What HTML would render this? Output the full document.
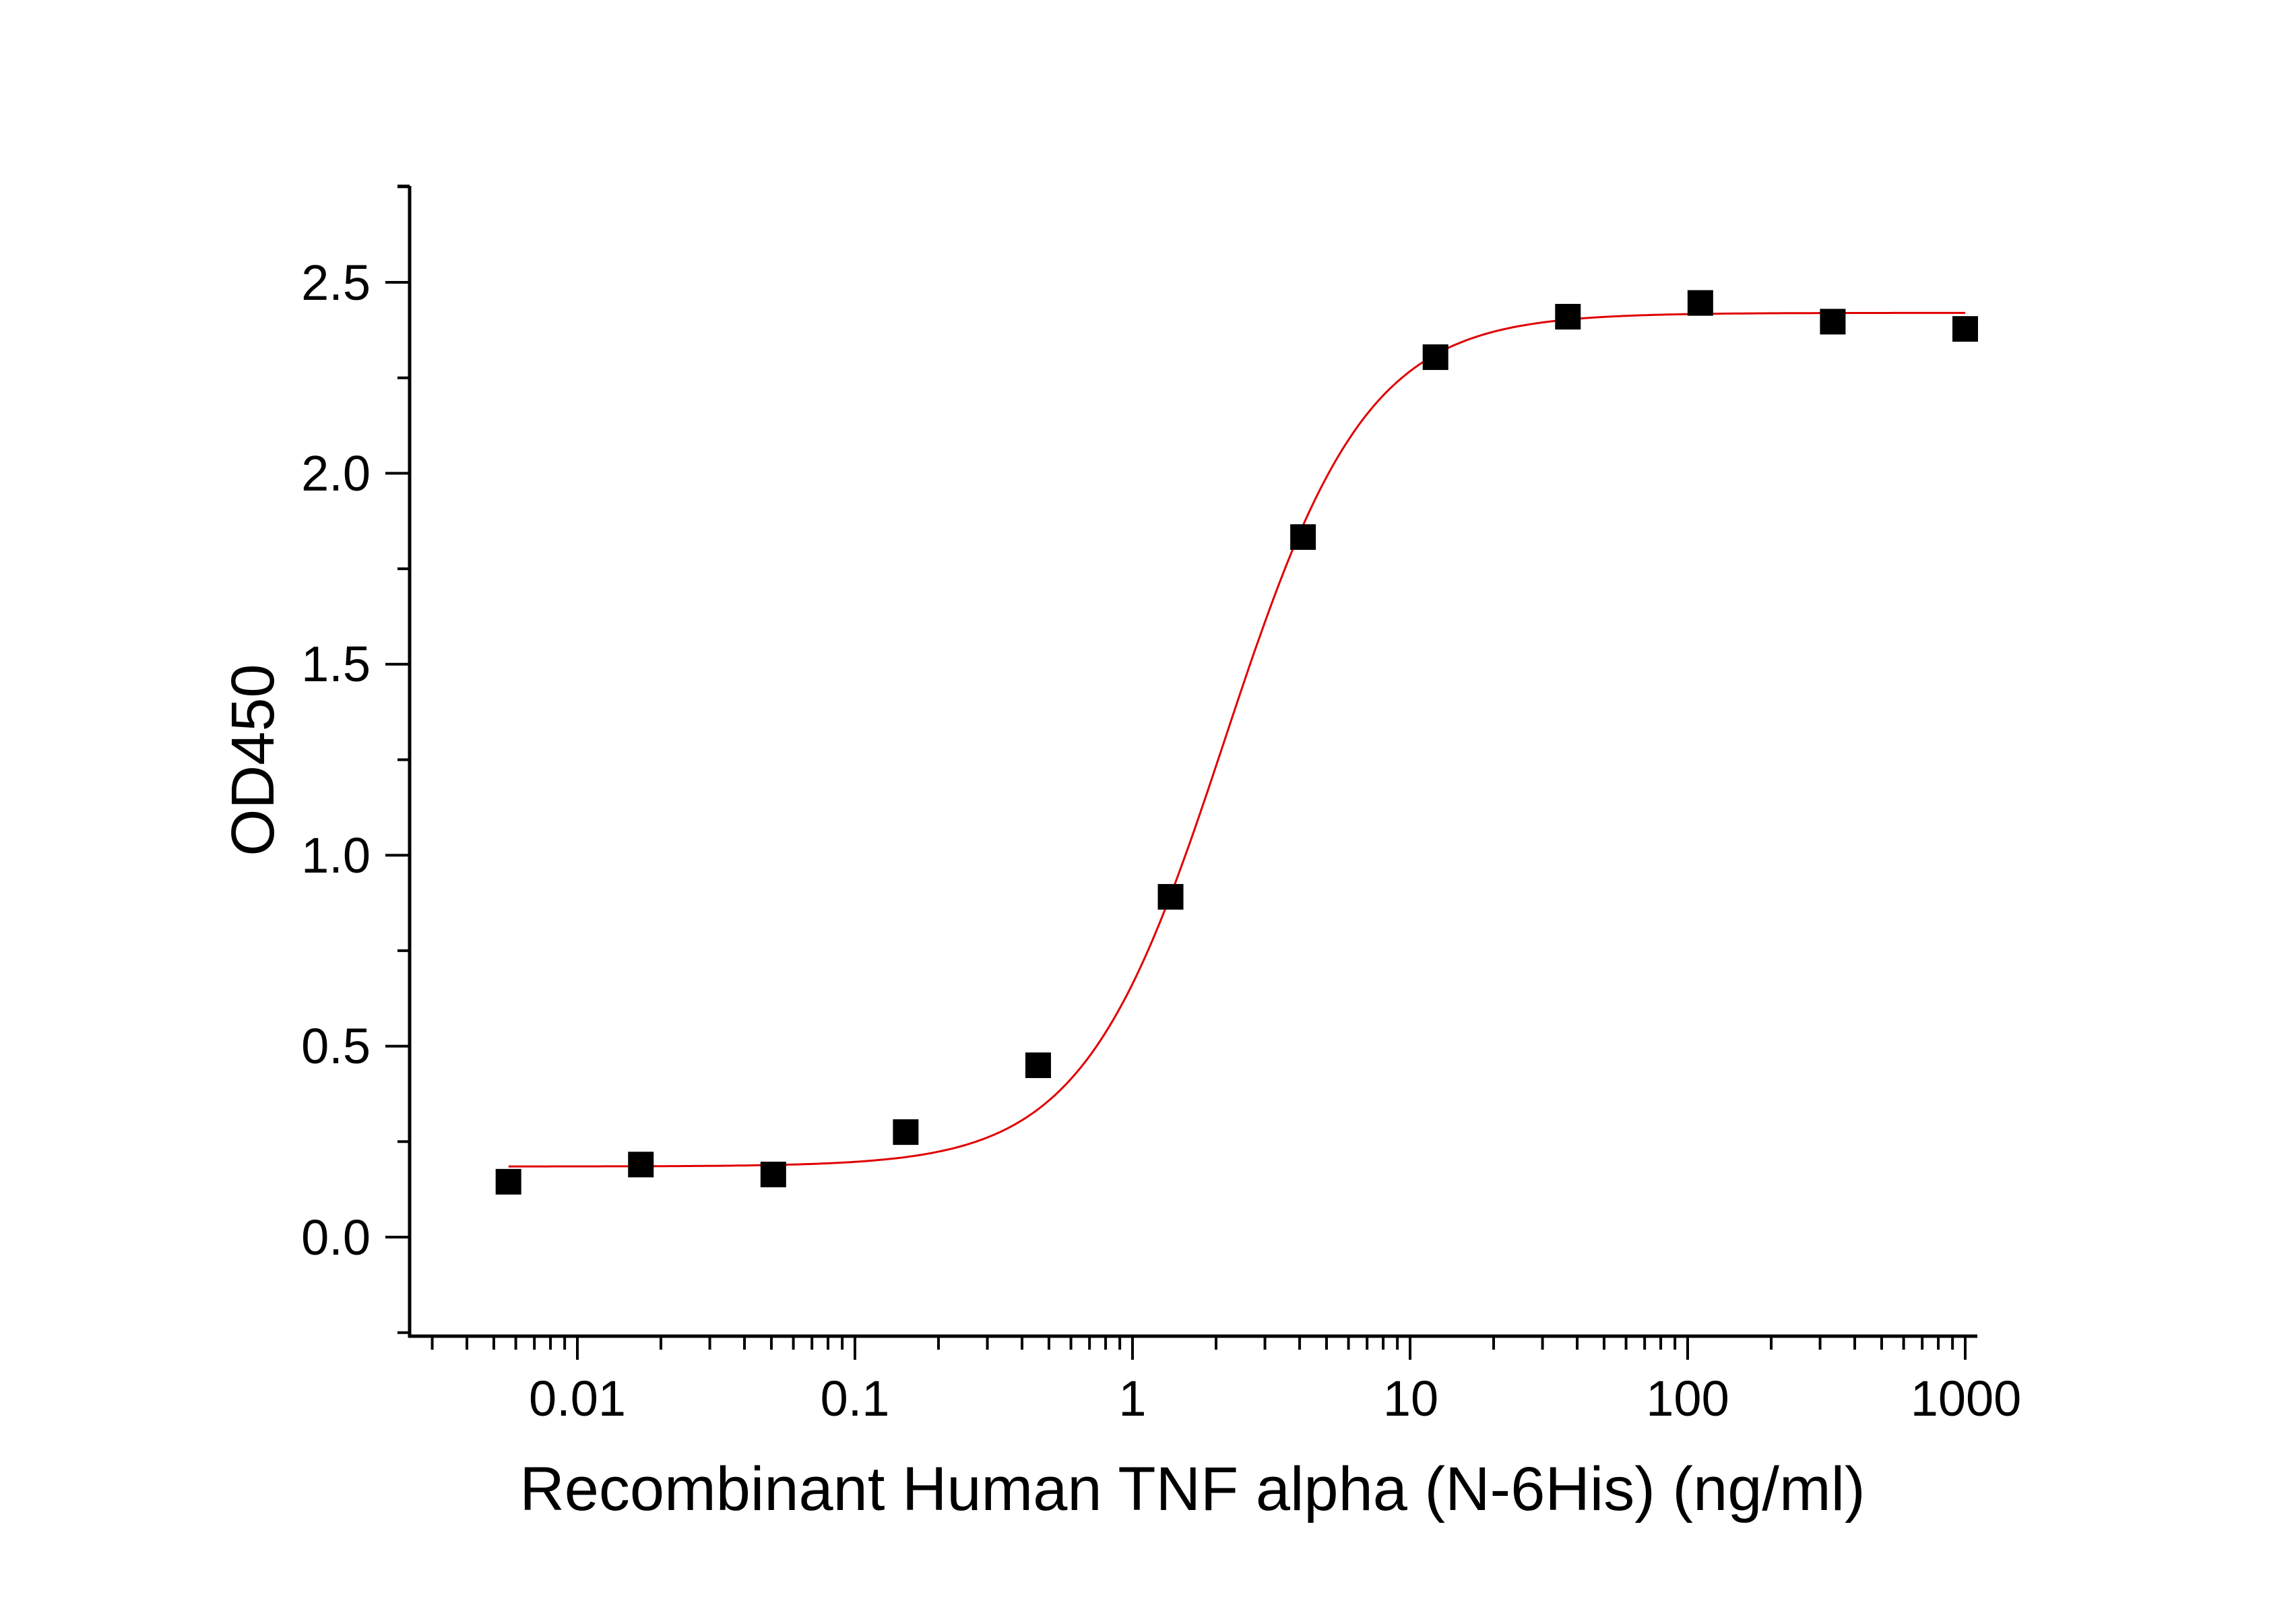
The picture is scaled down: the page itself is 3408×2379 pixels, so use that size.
<!DOCTYPE html>
<html><head><meta charset="utf-8"><style>
html,body{margin:0;padding:0;background:#fff;}
svg{display:block;}
text{font-family:"Liberation Sans",Arial,sans-serif;fill:#000;}
</style></head><body>
<svg id="s" width="3408" height="2379" viewBox="0 0 3408 2379" xmlns="http://www.w3.org/2000/svg">
<rect width="3408" height="2379" fill="#fff"/>
<g id="axes" stroke="#000" stroke-width="5" fill="none">
<line x1="608" y1="276" x2="608" y2="1985"/>
<line x1="606" y1="1983" x2="2935" y2="1983"/>
</g>
<g id="ticks" stroke="#000" stroke-width="4"></g>
<g font-size="74" text-anchor="end">
<text x="550" y="445">2.5</text>
<text x="550" y="728">2.0</text>
<text x="550" y="1011">1.5</text>
<text x="550" y="1295">1.0</text>
<text x="550" y="1578">0.5</text>
<text x="550" y="1862">0.0</text>
</g>
<g font-size="74" text-anchor="middle">
<text x="857" y="2101">0.01</text>
<text x="1269" y="2101">0.1</text>
<text x="1681" y="2101">1</text>
<text x="2094" y="2101">10</text>
<text x="2505" y="2101">100</text>
<text x="2918" y="2101">1000</text>
</g>
<text x="1770" y="2241" font-size="92" text-anchor="middle">Recombinant Human TNF alpha (N-6His) (ng/ml)</text>
<text transform="translate(406,1128) rotate(-90)" font-size="90" text-anchor="middle">OD450</text>
<path id="curve" fill="none" stroke="#e00000" stroke-width="3"/>
<g id="pts" fill="#000"></g>
</svg>
<script>
var ns="http://www.w3.org/2000/svg";
function X(v){return 857+412*(Math.log10(v)+2);}
function Y(v){return 1836-v*566.8;}
var t=document.getElementById("ticks");
function ln(x1,y1,x2,y2){var l=document.createElementNS(ns,"line");l.setAttribute("x1",x1);l.setAttribute("y1",y1);l.setAttribute("x2",x2);l.setAttribute("y2",y2);t.appendChild(l);}
for(var i=0;i<=5;i++){ln(572,Y(i*0.5),608,Y(i*0.5));}
for(var i=0;i<=5;i++){ln(590,Y(i*0.5+0.25),608,Y(i*0.5+0.25));}
ln(590,Y(-0.25),608,Y(-0.25));ln(590,276,608,276);
for(var d=-3;d<=2;d++){for(var m=1;m<=9;m++){var v=m*Math.pow(10,d);var x=X(v);if(x<612)continue;if(x>2930)continue;ln(x,1983,x,m==1?2018:2003);}}
ln(X(1000),1983,X(1000),2018);
var B=0.185,T=2.42,E=2.15,H=1.7,d="";
for(var k=0;k<=400;k++){var lv=Math.log10(0.00565)+k*(3-Math.log10(0.00565))/400;var v=Math.pow(10,lv);var y=B+(T-B)/(1+Math.pow(E/v,H));d+=(k?"L":"M")+X(v).toFixed(1)+","+Y(y).toFixed(1);}
document.getElementById("curve").setAttribute("d",d);
var c=[1000/Math.pow(3,11),1000/Math.pow(3,10),1000/Math.pow(3,9),1000/Math.pow(3,8),1000/Math.pow(3,7),1000/Math.pow(3,6),1000/Math.pow(3,5),1000/Math.pow(3,4),1000/27,1000/9,1000/3,1000];
var o=[0.145,0.19,0.164,0.275,0.45,0.891,1.833,2.304,2.41,2.446,2.397,2.378];
var p=document.getElementById("pts");
for(var i=0;i<12;i++){var r=document.createElementNS(ns,"rect");r.setAttribute("x",X(c[i])-19);r.setAttribute("y",Y(o[i])-19);r.setAttribute("width",38);r.setAttribute("height",38);p.appendChild(r);}
</script>
</body></html>
